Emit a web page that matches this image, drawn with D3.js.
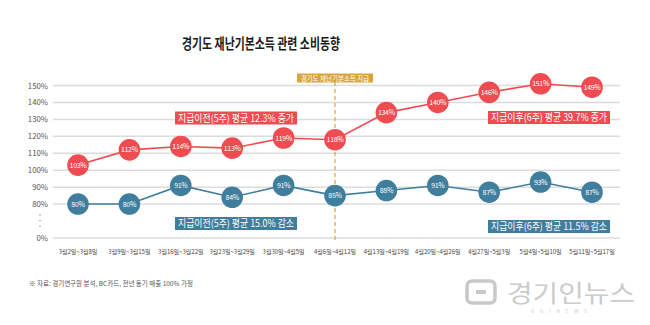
<!DOCTYPE html>
<html>
<head>
<meta charset="utf-8">
<script src="https://cdn.jsdelivr.net/npm/d3@7"></script>
<style>
  body { margin: 0; background: #fff; }
  svg { display: block; font-family: "Noto Sans CJK KR", "Noto Sans", sans-serif; }
</style>
</head>
<body>
<div id="chart"></div>
<script>
// weekly card sales vs. same week last year (%)
var weeks = ['3월2일~3월8일', '3월9일~3월15일', '3월16일~3월22일', '3월23일~3월29일', '3월30일~4월5일',
  '4월6일~4월12일', '4월13일~4월19일', '4월20일~4월26일', '4월27일~5월3일', '5월4일~5월10일', '5월11일~5월17일'];
var redValues = [103, 112, 114, 113, 119, 118, 134, 140, 146, 151, 149];
var blueValues = [80, 80, 91, 84, 91, 85, 88, 91, 87, 93, 87];
var yTicks = [0, 80, 90, 100, 110, 120, 130, 140, 150];
var payWeek = '4월6일~4월12일';
var noteTexts = ['지급이전(5주) 평균 12.3% 증가', '지급이전(5주) 평균 15.0% 감소',
  '지급이후(6주) 평균 39.7% 증가', '지급이후(6주) 평균 11.5% 감소'];

const W = 650, H = 325;
const RED = '#ef4c52', BLUE = '#3f7e9d', GOLD = '#d9a53a';

var svg = d3.select('#chart').append('svg').attr('width', W).attr('height', H);

// axis is broken between 0% and 80%
var y = d3.scaleLinear().domain([0, 70, 150]).range([238, 221, 85.5]);
var x = d3.scalePoint().domain(weeks).range([78, 592]);

svg.append('text')
  .attr('x', 261).attr('y', 49)
  .attr('text-anchor', 'middle')
  .attr('font-size', 15).attr('font-weight', 700).attr('fill', '#1a1a1a')
  .attr('textLength', 158).attr('lengthAdjust', 'spacingAndGlyphs')
  .text('경기도 재난기본소득 관련 소비동향');

// grid
var grid = svg.append('g');
grid.selectAll('line').data(yTicks).enter().append('line')
  .attr('x1', 53).attr('x2', 620)
  .attr('y1', (d) => y(d)).attr('y2', (d) => y(d))
  .attr('stroke', '#dcdcdc').attr('stroke-width', 1.5);
grid.selectAll('text').data(yTicks).enter().append('text')
  .attr('x', 48).attr('y', (d) => y(d) + 3)
  .attr('text-anchor', 'end')
  .attr('font-size', 7.8).attr('fill', '#555')
  .text((d) => d + '%');
grid.selectAll('circle.brk').data([0, 1, 2]).enter().append('circle')
  .attr('cx', 40).attr('cy', (d) => 215 + d * 5.5).attr('r', 0.7).attr('fill', '#888');

// x labels
svg.append('g').selectAll('text').data(weeks).enter().append('text')
  .attr('x', (d) => x(d)).attr('y', 254)
  .attr('text-anchor', 'middle')
  .attr('font-size', 6).attr('fill', '#444')
  .text((d) => d);

// payment marker
var px = x(payWeek);
svg.append('line')
  .attr('x1', px).attr('x2', px).attr('y1', 82).attr('y2', 240)
  .attr('stroke', GOLD).attr('stroke-width', 1.2).attr('stroke-dasharray', '4,3');
svg.append('rect')
  .attr('x', px - 38).attr('y', 73.5).attr('width', 76).attr('height', 9).attr('fill', GOLD);
svg.append('text')
  .attr('x', px).attr('y', 80.6).attr('text-anchor', 'middle')
  .attr('font-size', 6.5).attr('fill', '#fff')
  .text('경기도 재난기본소득 지급');

// average-change boxes: [center x, center y, colour]
var notePos = [[236, 118, RED], [236, 223.5, BLUE], [549, 117.5, RED], [549, 226.5, BLUE]];
noteTexts.forEach((txt, i) => {
  var p = notePos[i];
  var g = svg.append('g');
  g.append('rect')
    .attr('x', p[0] - 61).attr('y', p[1] - 6.5)
    .attr('width', 122).attr('height', 13)
    .attr('fill', p[2]);
  g.append('text')
    .attr('x', p[0]).attr('y', p[1] + 3.8)
    .attr('text-anchor', 'middle')
    .attr('font-size', 10).attr('fill', '#fff')
    .attr('textLength', 116).attr('lengthAdjust', 'spacingAndGlyphs')
    .text(txt);
});

var line = d3.line().x((d, i) => x(weeks[i])).y((d) => y(d));

function drawSeries(vals, color) {
  svg.append('path').datum(vals)
    .attr('d', line).attr('fill', 'none')
    .attr('stroke', color).attr('stroke-width', 1.6);
  var pts = svg.append('g').selectAll('g').data(vals).enter().append('g')
    .attr('transform', (d, i) => `translate(${x(weeks[i])},${y(d)})`);
  pts.append('circle').attr('r', 10.8).attr('fill', color);
  pts.append('text')
    .attr('y', 2.5).attr('text-anchor', 'middle')
    .attr('font-size', 7).attr('fill', '#fff')
    .attr('letter-spacing', -0.3)
    .text((d) => d + '%');
}
drawSeries(redValues, RED);
drawSeries(blueValues, BLUE);

svg.append('text')
  .attr('x', 29).attr('y', 286)
  .attr('font-size', 6.5).attr('fill', '#555')
  .text('※ 자료: 경기연구원 분석, BC카드, 전년 동기 매출 100% 가정');

// watermark logo
var logo = svg.append('g');
logo.append('rect')
  .attr('x', 467).attr('y', 281).attr('width', 28).attr('height', 22).attr('rx', 5)
  .attr('fill', 'none').attr('stroke', '#c8c8c8').attr('stroke-width', 3.5);
logo.append('rect')
  .attr('x', 476).attr('y', 290).attr('width', 10).attr('height', 4)
  .attr('fill', '#c8c8c8');
logo.append('text')
  .attr('x', 507).attr('y', 302)
  .attr('font-size', 24).attr('fill', '#cbcbcb')
  .attr('textLength', 128).attr('lengthAdjust', 'spacingAndGlyphs')
  .text('경기인뉴스');
logo.append('text')
  .attr('x', 531).attr('y', 313)
  .attr('font-size', 4.5).attr('fill', '#c8c8c8').attr('letter-spacing', 6)
  .text('GGINEWS');
</script>
</body>
</html>
